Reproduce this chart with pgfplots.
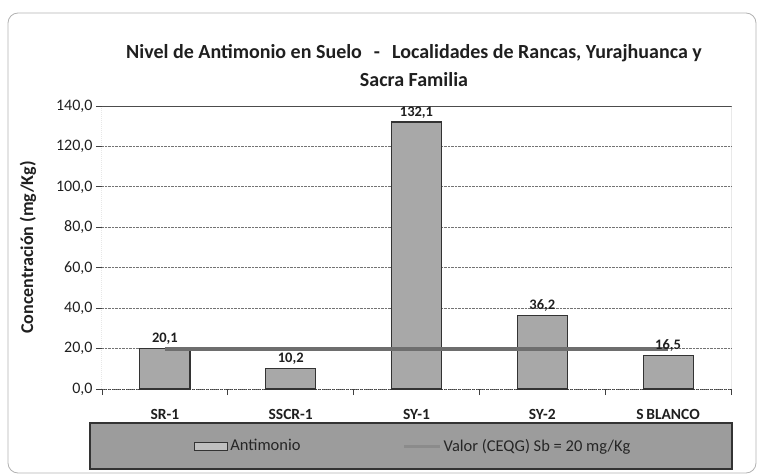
\documentclass[border=0pt]{standalone}
\usepackage{fontspec}
\setmainfont{Carlito}
\usepackage{pgfplots}
\pgfplotsset{compat=1.18}
\definecolor{bargray}{HTML}{A8A8A8}
\definecolor{leggray}{HTML}{9C9C9C}
\definecolor{linegray}{HTML}{6E6E6E}
\definecolor{edge}{HTML}{333333}
\begin{document}
\begin{tikzpicture}
\useasboundingbox (0pt,0pt) rectangle (758pt,475pt);
\draw[gray!60, line width=0.8pt, rounded corners=10pt] (8pt,2pt) rectangle (756pt,462pt);
\draw[fill=leggray, draw=edge, line width=1.5pt] (90pt,6pt) rectangle (732pt,52pt);
\node[font=\bfseries\fontsize{20}{28}\selectfont, align=center, text=black!88] at (414pt,409pt)
  {Nivel de Antimonio en Suelo\hspace{0.6em}-\hspace{0.6em}Localidades de Rancas, Yurajhuanca y\\Sacra Familia};
\begin{axis}[
  at={(102pt,86pt)}, anchor=south west, scale only axis,
  width=629pt, height=283pt,
  xmin=-0.5, xmax=4.5, ymin=0, ymax=140,
  ytick={0,20,...,140},
  xtick={0,1,2,3,4},
  xticklabels={SR-1,SSCR-1,SY-1,SY-2,S\,BLANCO},
  minor xtick={-0.5,0.5,1.5,2.5,3.5,4.5},
  xtick pos=bottom, ytick pos=left,
  tick align=outside,
  major tick length=6pt, minor tick length=6pt,
  major x tick style={draw=none},
  every tick/.style={black!75, line width=0.8pt},
  ymajorgrids,
  grid style={densely dotted, black!55, line width=0.8pt},
  axis line style={draw=none},
  /pgf/number format/use comma,
  /pgf/number format/fixed,
  /pgf/number format/fixed zerofill,
  /pgf/number format/precision=1,
  /pgf/number format/assume math mode=true,
  yticklabel style={font=\fontsize{16}{16}\selectfont, text=black!88},
  xticklabel style={font=\bfseries\fontsize{15.5}{16}\selectfont, text=black!88, yshift=-11pt},
  ylabel={Concentración (mg/Kg)},
  ylabel style={font=\bfseries\fontsize{18}{18}\selectfont, text=black!88, at={(axis description cs:-0.1176,0.5)}, anchor=center},
  legend style={at={(0.495,-0.2014)}, anchor=center, draw=none, fill=none,
    font=\fontsize{16.5}{17}\selectfont, text=black!85,
    /tikz/every even column/.append style={column sep=100pt}},
  legend columns=2,
]
\draw[densely dotted, line width=1pt, black!75] (rel axis cs:0,0) -- (rel axis cs:0,1);
\draw[densely dotted, line width=1pt, black!75] (rel axis cs:0,0) -- (rel axis cs:1,0);
\draw[black!70, line width=1pt] (rel axis cs:0,1) -- (rel axis cs:1,1) -- (rel axis cs:1,0);
\addplot[ybar, bar width=50pt, fill=bargray, draw=edge, line width=1.2pt,
  nodes near coords,
  every node near coord/.append style={font=\bfseries\fontsize{14.5}{15}\selectfont, text=black!88},
  legend image code/.code={\draw[fill=gray!50, draw=edge, line width=1pt] (0pt,-4pt) rectangle (33pt,4pt);}]
  coordinates {(0,20.1) (1,10.2) (2,132.1) (3,36.2) (4,16.5)};
\addlegendentry{Antimonio}
\addplot[linegray, line width=4pt, mark=none,
  legend image code/.code={\draw[linegray!80, line width=3pt] (0pt,0pt) -- (36pt,0pt);}]
  coordinates {(0,20) (1,20) (2,20) (3,20) (4,20)};
\addlegendentry{Valor (CEQG) Sb = 20 mg/Kg}
\end{axis}
\end{tikzpicture}
\end{document}
